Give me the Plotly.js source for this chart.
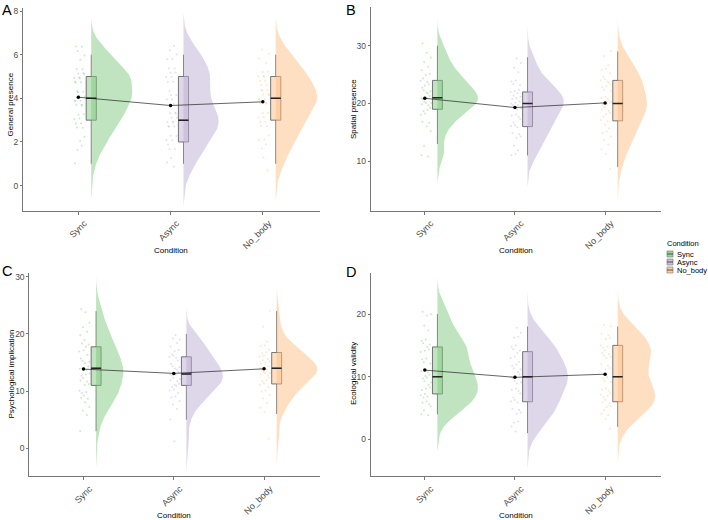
<!DOCTYPE html>
<html><head><meta charset="utf-8">
<script src="https://cdn.plot.ly/plotly-3.0.1.min.js"></script>
<style>html,body{margin:0;padding:0;background:#fff}#chart{width:708px;height:520px}</style>
</head><body><div id="chart"></div>
<script>
// ---------- DATA ----------
const conditions = ['Sync', 'Async', 'No_body'];
const legendTitle = 'Condition';
const xTitle = 'Condition';

// Panel A: General presence (score level -> number of participants)
const gpLevels = [1, 2, 3, 4, 5, 6];
const gpSync   = [1, 4, 8, 11, 11, 5];
const gpAsync  = [3, 7, 11, 6, 8, 5];
const gpNoBody = [2, 5, 8, 12, 9, 4];
const gpQ1 = [3, 2, 3], gpMed = [4, 3, 4], gpQ3 = [5, 5, 5], gpLo = [1, 1, 1], gpHi = [6, 6, 6];
const gpMean = [4.05, 3.67, 3.84];

// Panel B: Spatial presence
const spLevels = [9,10,11,12,13,14,15,16,17,18,19,20,21,22,23,24,25,26,27,28,29,30];
const spSync   = [0,0,2,0,1,0,1,1,2,2,3,5,5,4,3,3,2,2,1,1,1,1];
const spAsync  = [0,0,2,1,1,2,2,3,2,3,3,5,4,4,2,2,1,1,1,1,0,0];
const spNoBody = [1,0,1,1,1,2,2,2,2,3,3,4,3,2,2,4,2,2,1,1,1,0];
const spQ1 = [19, 16, 17], spMed = [21, 20, 20], spQ3 = [24, 22, 24], spLo = [13, 11, 9], spHi = [30, 28, 29];
const spMean = [20.9, 19.3, 20.1];

// Panel C: Psychological implication
const piLevels = [1,2,3,4,5,6,7,8,9,10,11,12,13,14,15,16,17,18,19,20,21,22,23,24];
const piSync   = [0,0,1,0,0,1,2,1,3,3,2,3,3,4,3,2,2,3,1,2,1,1,0,2];
const piAsync  = [1,0,0,0,1,0,1,2,2,3,4,4,5,4,2,4,2,2,2,1,0,0,0,0];
const piNoBody = [0,1,0,0,0,1,1,1,2,2,3,3,5,6,4,3,3,2,1,0,1,0,0,1];
const piQ1 = [11, 11, 11.25], piMed = [14, 13, 14], piQ3 = [17.75, 16, 16.75], piLo = [3, 5, 6], piHi = [24, 20, 24];
const piMean = [13.85, 13.1, 13.9];

// Panel D: Ecological validity
const evLevels = [1,2,3,4,5,6,7,8,9,10,11,12,13,14,15,16,17,18,19,20];
const evSync   = [0,0,0,2,2,3,4,3,3,4,2,2,2,3,3,2,1,1,0,3];
const evAsync  = [1,1,2,2,2,3,2,3,3,4,3,3,2,3,2,2,1,1,0,0];
const evNoBody = [0,1,1,2,3,3,4,3,2,2,2,2,3,3,3,2,2,2,0,0];
const evQ1 = [7.25, 6, 6], evMed = [10, 10, 10], evQ3 = [14.75, 14, 15], evLo = [4, 1, 2], evHi = [20, 18, 18];
const evMean = [11.05, 9.9, 10.4];

// ---------- STYLE / LAYOUT CONFIG ----------
const W = 708, H = 520;
const fillColors = ['rgba(127,201,127,0.5)', 'rgba(190,174,212,0.5)', 'rgba(253,192,134,0.5)'];
const solidColors = ['#7FC97F', '#BEAED4', '#FDC086'];
const FONT = 'Liberation Sans, Arial, sans-serif';
const OFFSET = 0.14, BOXW = 0.11, VIOLW = 0.45;

const panels = [
  {letter: 'A', ytitle: 'General presence', levels: gpLevels, counts: [gpSync, gpAsync, gpNoBody],
   q1: gpQ1, med: gpMed, q3: gpQ3, lo: gpLo, hi: gpHi, mean: gpMean,
   yrange: [-1.15, 8.14], dtick: 2, px: [23, 320, 8, 210.7],
   letterPos: [1, 9.5], ytPos: [10.5, 105], xtPos: [171, 250]},
  {letter: 'B', ytitle: 'Spatial presence', levels: spLevels, counts: [spSync, spAsync, spNoBody],
   q1: spQ1, med: spMed, q3: spQ3, lo: spLo, hi: spHi, mean: spMean,
   yrange: [1.45, 36.75], dtick: 10, px: [370.7, 661, 6.7, 210.7],
   letterPos: [344.5, 9.5], ytPos: [353, 109], xtPos: [516, 250]},
  {letter: 'C', ytitle: 'Psychological implication', levels: piLevels, counts: [piSync, piAsync, piNoBody],
   q1: piQ1, med: piMed, q3: piQ3, lo: piLo, hi: piHi, mean: piMean,
   yrange: [-4.84, 30.6], dtick: 10, px: [29.3, 320, 273.3, 476],
   letterPos: [1, 270.5], ytPos: [10.5, 374], xtPos: [174, 515]},
  {letter: 'D', ytitle: 'Ecological validity', levels: evLevels, counts: [evSync, evAsync, evNoBody],
   q1: evQ1, med: evMed, q3: evQ3, lo: evLo, hi: evHi, mean: evMean,
   yrange: [-5.85, 26.6], dtick: 10, px: [370.7, 661, 272.7, 476],
   letterPos: [344.5, 272], ytPos: [353, 374], xtPos: [515.5, 515]}
];

// ---------- HELPERS ----------
function expand(levels, counts) {
  const v = [];
  levels.forEach((l, i) => { for (let k = 0; k < counts[i]; k++) v.push(l); });
  return v;
}
function quantile(s, p) {
  const h = (s.length - 1) * p, lo = Math.floor(h);
  const hi = Math.min(lo + 1, s.length - 1);
  return s[lo] + (h - lo) * (s[hi] - s[lo]);
}
function bwNrd0(v) {
  const n = v.length, m = v.reduce((a, b) => a + b, 0) / n;
  const sd = Math.sqrt(v.reduce((a, b) => a + (b - m) * (b - m), 0) / (n - 1));
  const s = v.slice().sort((a, b) => a - b);
  const iqr = (quantile(s, 0.75) - quantile(s, 0.25)) / 1.34;
  const lo = Math.min(sd, iqr) || sd;
  return 0.9 * lo * Math.pow(n, -0.2);
}
function kde(v) {
  const bw = bwNrd0(v);
  const a = Math.min(...v) - 3 * bw, b = Math.max(...v) + 3 * bw;
  const N = 256, ys = [], ds = [];
  for (let i = 0; i < N; i++) {
    const y = a + (b - a) * i / (N - 1);
    let d = 0;
    v.forEach(x => { const z = (y - x) / bw; d += Math.exp(-0.5 * z * z); });
    ys.push(y); ds.push(d / (v.length * bw * Math.sqrt(2 * Math.PI)));
  }
  return {ys, ds};
}
function frac(x) { return x - Math.floor(x); }
const px2x = x => x / W, px2y = y => 1 - y / H;

// ---------- BUILD ----------
const traces = [];
const layout = {
  width: W, height: H, margin: {l: 0, r: 0, t: 0, b: 0},
  paper_bgcolor: '#fff', plot_bgcolor: 'rgba(0,0,0,0)',
  showlegend: false, font: {family: FONT, color: '#000'},
  annotations: [], shapes: []
};

panels.forEach((p, pi) => {
  const sfx = pi === 0 ? '' : String(pi + 1);
  const xa = 'x' + sfx, ya = 'y' + sfx;
  const groups = p.counts.map(c => expand(p.levels, c));
  const dens = groups.map(kde);
  const maxD = Math.max(...dens.map(d => Math.max(...d.ds)));

  // violins (half, right side)
  dens.forEach((d, g) => {
    const base = g + 1 + OFFSET;
    const xs = [base], ys = [d.ys[0]];
    d.ds.forEach((v, i) => { xs.push(base + v / maxD * VIOLW); ys.push(d.ys[i]); });
    xs.push(base); ys.push(d.ys[d.ys.length - 1]);
    traces.push({type: 'scatter', mode: 'lines', x: xs, y: ys, xaxis: xa, yaxis: ya,
      fill: 'toself', fillcolor: fillColors[g], line: {width: 0, color: 'rgba(0,0,0,0)'},
      hoverinfo: 'skip'});
  });

  // boxes from summary stats
  conditions.forEach((c, g) => {
    traces.push({type: 'box', orientation: 'v', name: c, x: [g + 1 + OFFSET],
      q1: [p.q1[g]], median: [p.med[g]], q3: [p.q3[g]],
      lowerfence: [p.lo[g]], upperfence: [p.hi[g]],
      width: BOXW, whiskerwidth: 0, boxpoints: false,
      fillcolor: fillColors[g], line: {color: '#555', width: 0.8},
      xaxis: xa, yaxis: ya, hoverinfo: 'skip'});
    traces.push({type: 'scatter', mode: 'lines',
      x: [g + 1 + OFFSET - BOXW / 2, g + 1 + OFFSET + BOXW / 2], y: [p.med[g], p.med[g]],
      line: {color: '#222', width: 1.5}, xaxis: xa, yaxis: ya, hoverinfo: 'skip'});
  });

  // jittered raw points (deterministic jitter)
  groups.forEach((v, g) => {
    const xs = [], ys = [];
    v.forEach((val, i) => {
      xs.push(g + 1 + 0.01 + (frac(i * 0.6180339 + 0.37 * g + 0.11) - 0.5) * 0.12);
      ys.push(val + (frac(i * 0.7548777 + 0.29 * g + 0.53) - 0.5) * 0.8);
    });
    traces.push({type: 'scatter', mode: 'markers', x: xs, y: ys, xaxis: xa, yaxis: ya,
      marker: {size: 2, color: solidColors[g], opacity: 0.4}, hoverinfo: 'skip'});
  });

  // means connected
  traces.push({type: 'scatter', mode: 'lines+markers', x: [1, 2, 3], y: p.mean,
    xaxis: xa, yaxis: ya, line: {color: '#222', width: 0.7},
    marker: {color: '#000', size: 3.5}, hoverinfo: 'skip'});

  const [x0, x1, y0, y1] = p.px;
  layout['xaxis' + sfx] = {
    domain: [px2x(x0), px2x(x1)], anchor: ya, range: [0.4, 3.62],
    tickmode: 'array', tickvals: [1, 2, 3], ticktext: conditions, tickangle: -45,
    ticklabelshift: 6,
    showline: true, linecolor: '#777', linewidth: 1, ticks: 'outside', ticklen: 3,
    tickcolor: '#777', tickwidth: 1, showgrid: false, zeroline: false,
    tickfont: {size: 9, color: '#4d4d4d', family: FONT}, fixedrange: true
  };
  layout['yaxis' + sfx] = {
    domain: [px2y(y1), px2y(y0)], anchor: xa, range: p.yrange, dtick: p.dtick, tick0: 0,
    showline: true, linecolor: '#777', linewidth: 1, ticks: 'outside', ticklen: 2,
    tickcolor: '#777', tickwidth: 1, showgrid: false, zeroline: false,
    tickfont: {size: 8.5, color: '#4d4d4d', family: FONT}, fixedrange: true
  };

  layout.annotations.push(
    {text: p.letter, xref: 'paper', yref: 'paper', x: px2x(p.letterPos[0]), y: px2y(p.letterPos[1]),
     xanchor: 'left', yanchor: 'middle', showarrow: false, borderpad: 0,
     font: {size: 14.5, color: '#000', family: FONT}},
    {text: p.ytitle, xref: 'paper', yref: 'paper', x: px2x(p.ytPos[0]), y: px2y(p.ytPos[1]),
     xanchor: 'center', yanchor: 'middle', textangle: -90, showarrow: false, borderpad: 0,
     font: {size: 8, color: '#000', family: FONT}},
    {text: xTitle, xref: 'paper', yref: 'paper', x: px2x(p.xtPos[0]), y: px2y(p.xtPos[1]),
     xanchor: 'center', yanchor: 'middle', showarrow: false, borderpad: 0,
     font: {size: 8, color: '#000', family: FONT}}
  );
});

// legend (drawn manually to match compact ggplot key)
layout.annotations.push({text: legendTitle, xref: 'paper', yref: 'paper', x: px2x(666), y: px2y(243),
  xanchor: 'left', yanchor: 'middle', showarrow: false, borderpad: 0,
  font: {size: 7.5, color: '#000', family: FONT}});
conditions.forEach((c, g) => {
  const cy = 254 + g * 8;
  layout.shapes.push({type: 'rect', xref: 'paper', yref: 'paper',
    x0: px2x(667), x1: px2x(673), y0: px2y(cy + 3), y1: px2y(cy - 3),
    fillcolor: solidColors[g], opacity: 0.8, line: {color: '#555', width: 0.6}});
  layout.shapes.push({type: 'line', xref: 'paper', yref: 'paper',
    x0: px2x(667), x1: px2x(673), y0: px2y(cy), y1: px2y(cy), line: {color: '#333', width: 0.8}});
  layout.annotations.push({text: c, xref: 'paper', yref: 'paper', x: px2x(676), y: px2y(cy),
    xanchor: 'left', yanchor: 'middle', showarrow: false, borderpad: 0,
    font: {size: 7.5, color: '#000', family: FONT}});
});

Plotly.newPlot('chart', traces, layout, {staticPlot: true, displayModeBar: false});
</script>
</body></html>
